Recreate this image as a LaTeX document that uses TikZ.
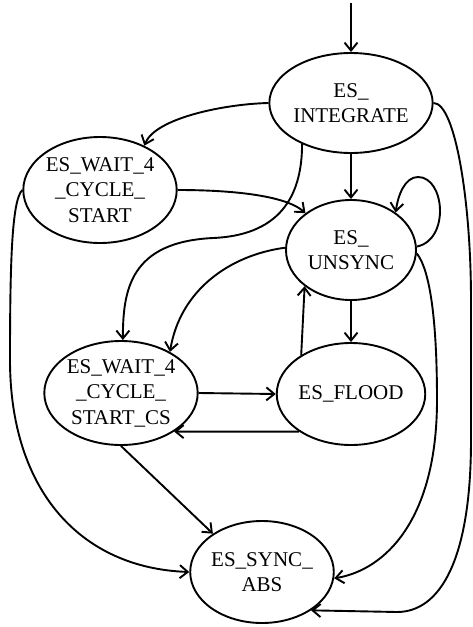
\documentclass[tikz,border=0pt]{standalone}
\usepackage{fontspec}
\setmainfont{Liberation Serif}
\usetikzlibrary{shapes.geometric,arrows.meta}
\begin{document}
\begin{tikzpicture}[x=1pt,y=-1pt,
  st/.style={ellipse,draw,line width=1.9pt,inner sep=0pt,align=center,
    font=\fontsize{21}{25.5}\selectfont},
  ed/.style={line width=1.9pt,-{Straight Barb[length=8pt,width=13pt]}}]
\useasboundingbox (0,0) rectangle (473,627);
\node[st,minimum width=130pt,minimum height=100pt] (int) at (351,103) {ES\_\\INTEGRATE};
\node[st,minimum width=130pt,minimum height=106pt] (ws) at (100,190) {ES\_WAIT\_4\\\_CYCLE\_\\START};
\node[st,minimum width=130pt,minimum height=100pt] (un) at (351,250) {ES\_\\UNSYNC};
\node[st,minimum width=134pt,minimum height=104pt] (wcs) at (121,393) {ES\_WAIT\_4\\\_CYCLE\_\\START\_CS};
\node[st,minimum width=130pt,minimum height=102pt] (fl) at (351,394) {ES\_FLOOD};
\node[st,minimum width=130pt,minimum height=102pt] (sa) at (262,572) {ES\_SYNC\_\\ABS};
\coordinate (init) at (351,3);
% initial
\draw[ed] (init) -- (int.north);
% int -> ws
\draw[ed] (int.west) .. controls (225,104) and (155,118) .. (ws.45);
% int -> un
\draw[ed] (int.south) -- (un.north);
% int -> wcs
\draw[ed] (int.220) .. controls (302,190) and (285,235) .. (213,238)
  .. controls (130,242) and (123,290) .. (wcs.88);
% ws -> un
\draw[ed] (ws.east) .. controls (230,190) and (285,195) .. (un.141);
% un self loop
\draw[ed] (un.3) .. controls (450,240) and (445,177) .. (418,177)
  .. controls (405,177) and (398,195) .. (un.40);
% un -> wcs
\draw[ed] (un.178) .. controls (230,255) and (180,290) .. (wcs.40);
% un -> fl
\draw[ed] (un.south) -- (fl.north);
% fl -> un
\draw[ed] (fl.142) -- (un.218);
% wcs -> fl
\draw[ed] (wcs.east) -- (fl.west);
% fl -> wcs
\draw[ed] (fl.216) -- (wcs.-36);
% wcs -> sa
\draw[ed] (wcs.south) -- (sa.142);
% ws -> sa
\draw[ed] (ws.west) .. controls (12,200) and (10,260) .. (10,360)
  .. controls (10,490) and (80,568) .. (sa.west);
% un -> sa
\draw[ed] (un.-3) .. controls (430,270) and (437,320) .. (437,400)
  .. controls (437,520) and (385,570) .. (sa.-5);
% int -> sa
\draw[ed] (int.east) .. controls (455,103) and (471,200) .. (471,300)
  -- (471,440) .. controls (471,560) and (440,612) .. (397,612) -- (sa.-38);
\end{tikzpicture}
\end{document}
